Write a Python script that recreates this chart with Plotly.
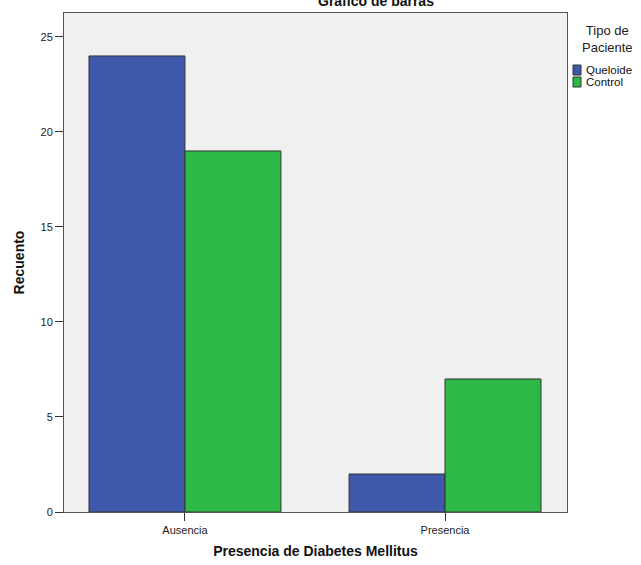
import plotly.graph_objects as go

categories = ["Ausencia", "Presencia"]
queloide = [24, 2]
control = [19, 7]
series_names = ["Queloide", "Control"]
series_colors = ["#3e58ac", "#2eb848"]
y_ticks = [0, 5, 10, 15, 20, 25]

FONT = "Liberation Sans, Arial, sans-serif"
L, R, T, B = 64, 74, 13, 53
W, H = 641, 565
PW, PH = W - L - R, H - T - B

def px_x(x):
    return (x - L) / PW

def px_y(y):
    return (H - B - y) / PH

fig = go.Figure()
for name, vals, col in zip(series_names, [queloide, control], series_colors):
    fig.add_trace(go.Bar(x=categories, y=vals, name=name,
                         marker=dict(color=col, line=dict(color="#333333", width=1))))

shapes = []
annotations = [
    dict(text="<b>Gráfico de barras</b>", xref="paper", yref="paper",
         x=px_x(376), y=px_y(1), xanchor="center", yanchor="middle",
         showarrow=False, font=dict(size=14, family=FONT, color="#111111")),
    dict(text="Tipo de<br>Paciente", xref="paper", yref="paper",
         x=px_x(607), y=px_y(39), xanchor="center", yanchor="middle", align="center",
         showarrow=False, font=dict(size=13, family=FONT, color="#222222")),
]
for i, (name, col) in enumerate(zip(series_names, series_colors)):
    y0 = 65 + 12 * i
    shapes.append(dict(type="rect", xref="paper", yref="paper",
                       x0=px_x(573), x1=px_x(581), y0=px_y(y0), y1=px_y(y0 + 10),
                       fillcolor=col, line=dict(color="#333333", width=1)))
    annotations.append(dict(text=name, xref="paper", yref="paper",
                            x=px_x(585), y=px_y(y0 + 5), xanchor="left", yanchor="middle",
                            showarrow=False, borderpad=0,
                            font=dict(size=11.5, family=FONT, color="#111111")))

fig.update_layout(
    width=W, height=H,
    margin=dict(l=L, r=R, t=T, b=B, autoexpand=False),
    paper_bgcolor="white", plot_bgcolor="#f0f0f0",
    barmode="group", bargap=0.262, bargroupgap=0,
    font=dict(family=FONT, size=11, color="#222222"),
    showlegend=False,
    shapes=shapes,
    annotations=annotations,
)
fig.update_xaxes(range=[-0.465, 1.469], showline=True, linecolor="#555555", linewidth=1,
                 mirror=True, ticks="outside", ticklen=8, tickcolor="#333333",
                 title=dict(text="<b>Presencia de Diabetes Mellitus</b>",
                            font=dict(size=14, family=FONT, color="#111111"), standoff=10),
                 showgrid=False, tickfont=dict(size=11))
fig.update_yaxes(range=[0, 26.26], showline=True, linecolor="#555555", linewidth=1,
                 mirror=True, ticks="outside", ticklen=8, tickcolor="#333333",
                 tickvals=y_ticks, showgrid=False, zeroline=False,
                 title=dict(text="<b>Recuento</b>", font=dict(size=14, family=FONT, color="#111111"),
                            standoff=12),
                 tickfont=dict(size=11))

fig.write_html("out.html", config={"displayModeBar": False},
               post_script="document.body.style.margin='0px';document.body.style.overflow='hidden';")
